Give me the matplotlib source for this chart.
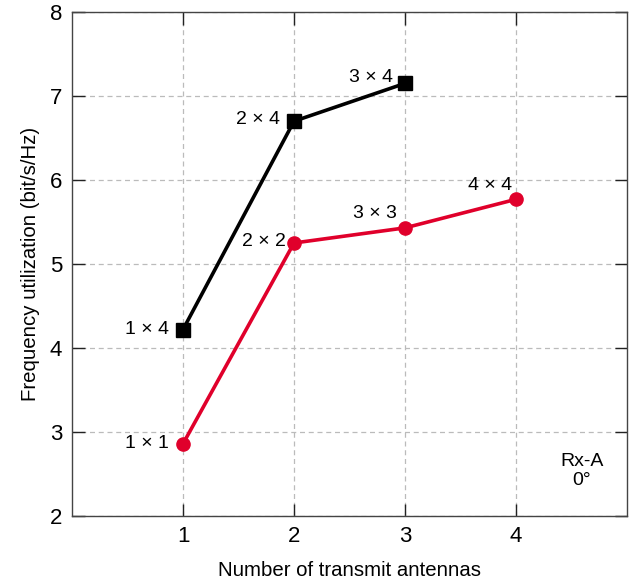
import matplotlib
matplotlib.use("Agg")
import matplotlib.pyplot as plt

plt.rcParams["font.family"] = ["Liberation Sans", "DejaVu Sans"]

# spectral efficiency vs. number of transmit antennas
tx = [1, 2, 3, 4]
rx4_vals = [4.22, 6.70, 7.15]
rxn_vals = [2.86, 5.25, 5.43, 5.77]
rx4_labels = ["1 × 4", "2 × 4", "3 × 4"]
rxn_labels = ["1 × 1", "2 × 2", "3 × 3", "4 × 4"]

red = "#e0002b"

fig = plt.figure(figsize=(6.29, 5.82), dpi=100)
ax = fig.add_axes([0.1145, 0.1134, 0.8823, 0.866])

ax.plot(tx[:3], rx4_vals, color="black", lw=2.6, marker="s", ms=10, zorder=3)
ax.plot(tx, rxn_vals, color=red, lw=2.6, marker="o", ms=9.5, zorder=3)

# text next to each point
offs_black = [(-10, 0), (-10, 1), (-9, 4)]
offs_red = [(-10, 0), (-6, 1), (-6, 10), (-3, 10)]
for x, y, s, o in zip(tx, rx4_vals, rx4_labels, offs_black):
    ax.annotate(s, (x, y), xytext=o, textcoords="offset points",
                ha="right", va="center", fontsize=14)
for x, y, s, o in zip(tx, rxn_vals, rxn_labels, offs_red):
    ax.annotate(s, (x, y), xytext=o, textcoords="offset points",
                ha="right", va="center", fontsize=14)

ax.text(4.595, 2.54, "Rx-A\n0°", ha="center", va="center", fontsize=14,
        linespacing=1.15)

ax.set_xlim(0, 5)
ax.set_ylim(2, 8)
ax.set_xticks([1, 2, 3, 4])
ax.set_yticks([2, 3, 4, 5, 6, 7, 8])
ax.tick_params(direction="in", length=9, width=1, labelsize=16,
               top=True, right=True, pad=7, color="#222222")
ax.grid(True, ls=(0, (4, 3)), color="#bbbbbb", lw=0.9)
for sp in ax.spines.values():
    sp.set_color("#444444")
    sp.set_linewidth(1)

ax.set_xlabel("Number of transmit antennas", fontsize=14.7, labelpad=10)
ax.set_ylabel("Frequency utilization (bit/s/Hz)", fontsize=14.7, labelpad=7)

plt.savefig("out.png", dpi=100)
